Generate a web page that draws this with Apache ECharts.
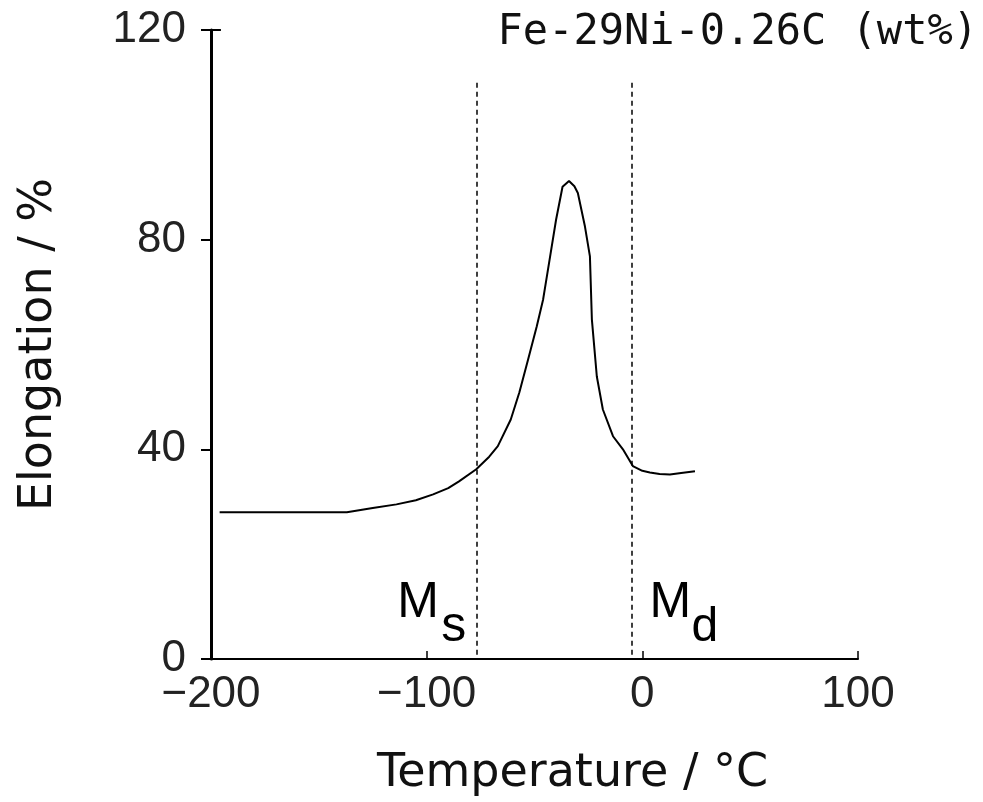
<!DOCTYPE html>
<html>
<head>
<meta charset="utf-8">
<script src="https://cdn.jsdelivr.net/npm/echarts@6/dist/echarts.min.js"></script>
<style>html,body{margin:0;padding:0;background:#fff;}#c{width:983px;height:802px;}</style>
</head>
<body>
<div id="c"></div>
<script>
const titleText = 'Fe-29Ni-0.26C (wt%)';
const xName = 'Temperature / °C';
const yName = 'Elongation / %';
const temps = [-196, -137, -125, -114, -105, -97, -90, -85, -77, -71, -67, -61, -57, -53, -49, -46, -43, -40, -37, -34, -31.5, -29.9, -26.6, -24.3, -23.4, -21.1, -18.3, -13.6, -9, -4.4, 0, 3.5, 8, 12.8, 18, 24.4];
const elong = [28, 28, 28.8, 29.5, 30.3, 31.4, 32.6, 33.9, 36.2, 38.6, 40.6, 45.7, 50.9, 57.1, 63.4, 68.6, 76.2, 83.8, 90.1, 91.2, 90.2, 88.9, 82.5, 76.8, 64.8, 53.9, 47.6, 42.5, 40, 36.8, 35.9, 35.6, 35.3, 35.2, 35.5, 35.8];
const msTemp = -77;
const mdTemp = -5;
const dashTop = 110.5;
const dashBottom = 0.8;

const chart = echarts.init(document.getElementById('c'));
const tickFont = {fontFamily: 'Liberation Sans', fontSize: 44, color: '#222'};
chart.setOption({
  animation: false,
  backgroundColor: '#fff',
  title: {
    text: titleText, right: 5, top: 12, padding: 0,
    textStyle: {fontFamily: 'DejaVu Sans Mono', fontSize: 42, fontWeight: 'normal', color: '#111'}
  },
  grid: {left: 211, right: 125, top: 30, bottom: 142},
  xAxis: {
    type: 'value', min: -200, max: 100, interval: 100,
    name: xName, nameLocation: 'middle', nameGap: 92,
    nameTextStyle: {fontFamily: 'DejaVu Sans', fontSize: 46, color: '#111', padding: [0, 0, 0, 76]},
    axisLine: {show: true, onZero: false, lineStyle: {color: '#000', width: 2}},
    axisTick: {show: true, inside: true, length: 8, lineStyle: {color: '#000', width: 1.5}},
    axisLabel: Object.assign({margin: 14, formatter: v => String(v).replace('-', '\u2212')}, tickFont),
    splitLine: {show: false}
  },
  yAxis: {
    type: 'value', min: 0, max: 120, interval: 40,
    name: yName, nameLocation: 'middle', nameGap: 149,
    nameTextStyle: {fontFamily: 'DejaVu Sans', fontSize: 46, color: '#111'},
    axisLine: {show: true, onZero: false, lineStyle: {color: '#000', width: 3}},
    axisTick: {show: true, inside: false, length: 10, lineStyle: {color: '#000', width: 2}},
    axisLabel: Object.assign({margin: 25}, tickFont),
    splitLine: {show: false}
  },
  series: [{
    type: 'line',
    data: temps.map((t, i) => [t, elong[i]]),
    symbol: 'none',
    smooth: false,
    lineStyle: {color: '#000', width: 2},
    markLine: {
      silent: true, symbol: 'none', label: {show: false},
      data: [
        [{coord: [msTemp, dashBottom], lineStyle: {type: [5, 4], width: 1.5, color: '#000'}}, {coord: [msTemp, dashTop]}],
        [{coord: [mdTemp, dashBottom], lineStyle: {type: [5, 4], width: 1.5, color: '#000'}}, {coord: [mdTemp, dashTop]}],
        [{coord: [-200, 120], lineStyle: {type: 'solid', width: 2, color: '#000'}}, {coord: [-195.4, 120]}]
      ]
    }
  }]
});

function addLabels() {
  const ms = chart.convertToPixel({gridIndex: 0}, [msTemp, 0]);
  const md = chart.convertToPixel({gridIndex: 0}, [mdTemp, 0]);
  const base = ms[1];
  const f = 'Liberation Sans';
  chart.setOption({
    graphic: [
      {type: 'text', left: ms[0] - 79, top: base - 81, style: {text: 'M', font: '50px ' + f, fill: '#000'}},
      {type: 'text', left: ms[0] - 35, top: base - 57, style: {text: 's', font: '50px ' + f, fill: '#000'}},
      {type: 'text', left: md[0] + 18, top: base - 81, style: {text: 'M', font: '50px ' + f, fill: '#000'}},
      {type: 'text', left: md[0] + 60, top: base - 55, style: {text: 'd', font: '48px ' + f, fill: '#000'}}
    ]
  });
}
addLabels();
</script>
</body>
</html>
